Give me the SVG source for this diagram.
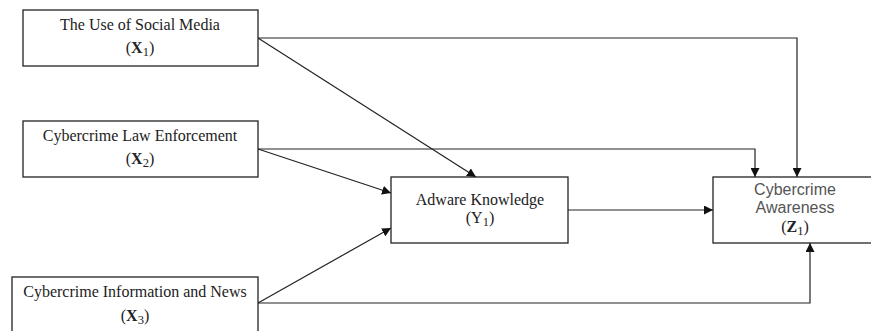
<svg xmlns="http://www.w3.org/2000/svg" width="871" height="331" viewBox="0 0 871 331">
<style>
.box{fill:#fff;stroke:#222;stroke-width:1.3}
.t{font-family:"Liberation Serif","Times New Roman",serif;font-size:16px;fill:#222;text-anchor:middle}
.s{font-family:"Liberation Sans",Arial,sans-serif;font-size:16px;fill:#555;text-anchor:middle}
.c{fill:none;stroke:#222;stroke-width:1.2;marker-end:url(#ah)}
.sub{font-size:12.5px}
</style>
<defs>
<marker id="ah" viewBox="0 0 10 10" refX="10" refY="5" markerWidth="9" markerHeight="9" markerUnits="userSpaceOnUse" orient="auto">
<path d="M0,0 L10,5 L0,10 z" fill="#111"/>
</marker>
</defs>
<rect width="871" height="331" fill="#fff"/>
<g id="connectors">
<path class="c" d="M258,38 H797 V177"/>
<path class="c" d="M258,149 H755 V177"/>
<path class="c" d="M258,38 L476,177"/>
<path class="c" d="M258,149 L391,193"/>
<path class="c" d="M258,303 L391,228"/>
<path class="c" d="M258,303 H810 V243"/>
<path class="c" d="M568,210 H713"/>
</g>
<g id="x1">
<rect class="box" x="23" y="10" width="235" height="56"/>
<text class="t" x="140" y="30">The Use of Social Media</text>
<text class="t" x="140" y="53" font-size="17">(<tspan font-weight="bold">X</tspan><tspan class="sub" dy="3">1</tspan><tspan dy="-3">)</tspan></text>
</g>
<g id="x2">
<rect class="box" x="23" y="121" width="235" height="56"/>
<text class="t" x="140" y="141">Cybercrime Law Enforcement</text>
<text class="t" x="140" y="164" font-size="17">(<tspan font-weight="bold">X</tspan><tspan class="sub" dy="3">2</tspan><tspan dy="-3">)</tspan></text>
</g>
<g id="x3">
<rect class="box" x="12" y="277" width="246" height="60"/>
<text class="t" x="135" y="297">Cybercrime Information and News</text>
<text class="t" x="135" y="321" font-size="17">(<tspan font-weight="bold">X</tspan><tspan class="sub" dy="3">3</tspan><tspan dy="-3">)</tspan></text>
</g>
<g id="y1">
<rect class="box" x="391" y="177" width="177" height="66"/>
<text class="t" x="480" y="205" fill="#333">Adware Knowledge</text>
<text class="t" x="480" y="223" fill="#333">(Y<tspan class="sub" dy="3">1</tspan><tspan dy="-3">)</tspan></text>
</g>
<g id="z1">
<rect class="box" x="713" y="177" width="170" height="66"/>
<text class="s" x="795" y="195">Cybercrime</text>
<text class="s" x="795" y="213">Awareness</text>
<text class="t" x="795" y="232">(<tspan font-weight="bold">Z</tspan><tspan class="sub" dy="3">1</tspan><tspan dy="-3">)</tspan></text>
</g>
</svg>
